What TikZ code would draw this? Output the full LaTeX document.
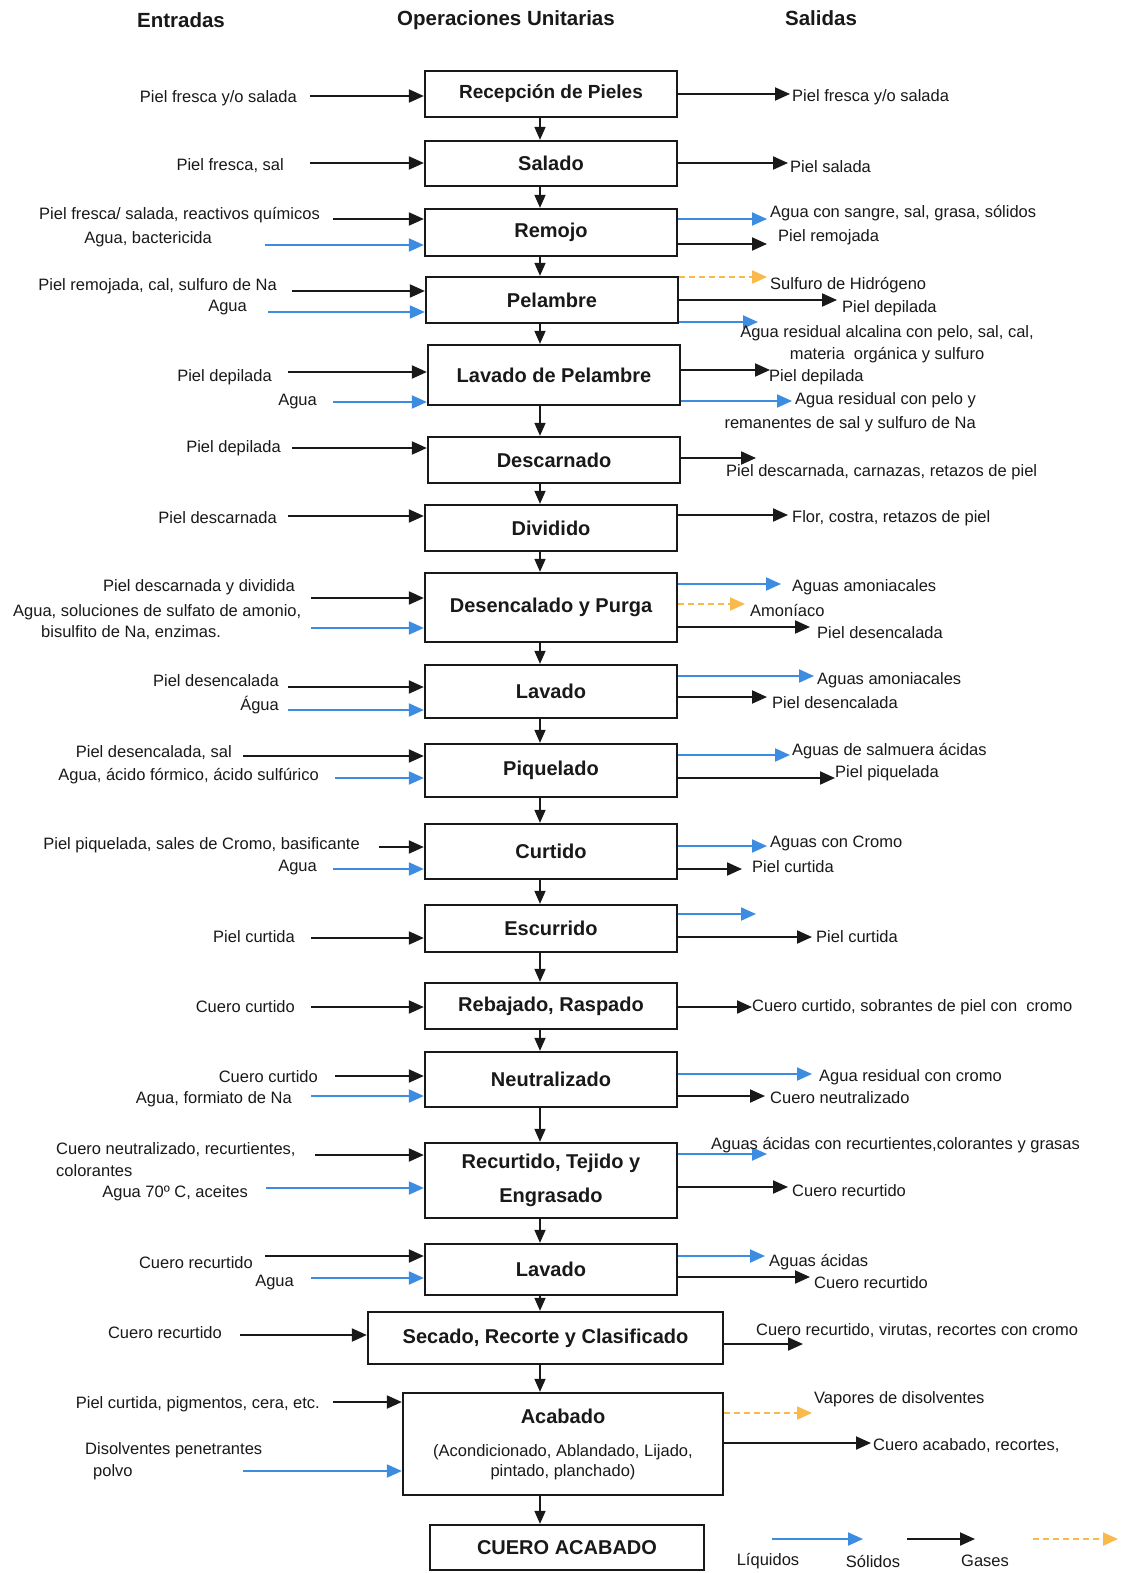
\documentclass[tikz,border=0pt]{standalone}
\usepackage{fontspec}
\setmainfont{Liberation Sans}
\usetikzlibrary{arrows.meta}
\definecolor{blk}{RGB}{25,25,25}
\definecolor{blu}{RGB}{60,140,225}
\definecolor{org}{RGB}{250,185,75}
\newcommand\lbfont{\fontsize{16.5}{20}\selectfont}
\newcommand\bxfont{\fontsize{20}{24}\selectfont\bfseries}
\newcommand\hdfont{\fontsize{20.5}{24}\selectfont\bfseries}
\begin{document}
\begin{tikzpicture}[x=1pt,y=-1pt,
 box/.style={draw=blk, line width=2.3pt, fill=white, inner sep=0pt, font=\bxfont, text=blk, align=center, minimum width=252pt},
 lb/.style={font=\lbfont, inner sep=0pt, text=blk},
 hd/.style={font=\hdfont, inner sep=0pt, text=blk},
 headA/.style={-{Triangle[length=15pt,width=13pt]}},
 sol/.style={draw=blk, line width=2pt, headA},
 liq/.style={draw=blu, line width=2pt, headA},
 gas/.style={draw=org, line width=2pt, dash pattern=on 6pt off 4pt, headA},
 down/.style={draw=blk, line width=1.6pt, -{Triangle[length=13pt,width=11pt]}},
]
\fill[white] (0,0) rectangle (1129,1573);
\useasboundingbox (0,0) rectangle (1129,1573);

% headers
\node[hd] (h1) at (181,20) {Entradas};
\node[hd] (h2) at (506,20) {Operaciones Unitarias};
\node[hd] (h3) at (821,18) {Salidas};

% boxes
\node[box, minimum height=46pt] (b1) at (551,94) {\fontsize{19}{22}\selectfont Recepción de Pieles};
\node[box, minimum height=45pt] (b2) at (551,163.5) {Salado};
\node[box, minimum height=47pt] (b3) at (551,232.5) {Remojo};
\node[box, minimum height=46pt] (b4) at (552,300) {Pelambre};
\node[box, minimum height=60pt] (b5) at (554,375) {Lavado de Pelambre};
\node[box, minimum height=46pt] (b6) at (554,460) {Descarnado};
\node[box, minimum height=46pt] (b7) at (551,528) {Dividido};
\node[box, minimum height=69pt] (b8) at (551,607.5) {Desencalado y Purga};
\node[box, minimum height=53pt] (b9) at (551,691.5) {Lavado};
\node[box, minimum height=53pt] (b10) at (551,770.5) {Piquelado};
\node[box, minimum height=55pt] (b11) at (551,851.5) {Curtido};
\node[box, minimum height=47pt] (b12) at (551,928.5) {Escurrido};
\node[box, minimum height=46pt] (b13) at (551,1006) {Rebajado, Raspado};
\node[box, minimum height=55pt] (b14) at (551,1079.5) {Neutralizado};
\node[box, minimum height=75pt] (b15) at (551,1180.5) {Recurtido, Tejido y\\[10pt]Engrasado};
\node[box, minimum height=51pt] (b16) at (551,1269.5) {Lavado};
\node[box, minimum height=52pt, minimum width=355pt] (b17) at (545.5,1338) {Secado, Recorte y Clasificado};
\node[box, minimum height=102pt, minimum width=320pt, font=\lbfont] (b18) at (563,1444) {{\bfseries\fontsize{20}{20}\selectfont Acabado}\\[13pt](Acondicionado, Ablandado, Lijado,\\pintado, planchado)};
\node[box, minimum height=45pt, minimum width=274pt] (b19) at (567,1547.5) {CUERO ACABADO};

% vertical flow
\coordinate (ax) at (540,0);
\foreach \a/\b in {b1/b2,b2/b3,b3/b4,b4/b5,b5/b6,b6/b7,b7/b8,b8/b9,b9/b10,b10/b11,b11/b12,b12/b13,b13/b14,b14/b15,b15/b16,b16/b17,b17/b18,b18/b19}
  \draw[down] (\a.south -| ax) -- (\b.north -| ax);

% ---------- inputs ----------
% 1
\node[lb, anchor=east] (e1) at (297,98) {Piel fresca y/o salada};
\coordinate (i1) at (310,96); \draw[sol] (i1) -- (i1 -| b1.west);
% 2
\node[lb, anchor=east] (e2) at (284,166) {Piel fresca, sal};
\coordinate (i2) at (310,163); \draw[sol] (i2) -- (i2 -| b2.west);
% 3
\node[lb, anchor=east] (e3a) at (320,215) {Piel fresca/ salada, reactivos químicos};
\coordinate (i3a) at (333,219); \draw[sol] (i3a) -- (i3a -| b3.west);
\node[lb, anchor=east] (e3b) at (212,239) {Agua, bactericida};
\coordinate (i3b) at (265,245); \draw[liq] (i3b) -- (i3b -| b3.west);
% 4
\node[lb, anchor=east] (e4a) at (277,286) {Piel remojada, cal, sulfuro de Na};
\coordinate (i4a) at (292,291); \draw[sol] (i4a) -- (i4a -| b4.west);
\node[lb, anchor=east] (e4b) at (247,308) {Agua};
\coordinate (i4b) at (268,312); \draw[liq] (i4b) -- (i4b -| b4.west);
% 5
\node[lb, anchor=east] (e5a) at (272,377) {Piel depilada};
\coordinate (i5a) at (288,372); \draw[sol] (i5a) -- (i5a -| b5.west);
\node[lb, anchor=east] (e5b) at (317,402) {Agua};
\coordinate (i5b) at (333,402); \draw[liq] (i5b) -- (i5b -| b5.west);
% 6
\node[lb, anchor=east] (e6) at (281,448) {Piel depilada};
\coordinate (i6) at (292,448); \draw[sol] (i6) -- (i6 -| b6.west);
% 7
\node[lb, anchor=east] (e7) at (277,518) {Piel descarnada};
\coordinate (i7) at (288,516); \draw[sol] (i7) -- (i7 -| b7.west);
% 8
\node[lb, anchor=east] (e8a) at (295,587) {Piel descarnada y dividida};
\coordinate (i8a) at (311,598); \draw[sol] (i8a) -- (i8a -| b8.west);
\node[lb, anchor=west, align=left] (e8b) at (13,622) {Agua, soluciones de sulfato de amonio,\\[1pt]\hspace*{28pt}bisulfito de Na, enzimas.};
\coordinate (i8b) at (311,628); \draw[liq] (i8b) -- (i8b -| b8.west);
% 9
\node[lb, anchor=east] (e9a) at (279,681) {Piel desencalada};
\coordinate (i9a) at (288,687); \draw[sol] (i9a) -- (i9a -| b9.west);
\node[lb, anchor=east] (e9b) at (279,705) {Água};
\coordinate (i9b) at (288,710); \draw[liq] (i9b) -- (i9b -| b9.west);
% 10
\node[lb, anchor=east] (e10a) at (232,753) {Piel desencalada, sal};
\coordinate (i10a) at (243,756); \draw[sol] (i10a) -- (i10a -| b10.west);
\node[lb, anchor=east] (e10b) at (319,776) {Agua, ácido fórmico, ácido sulfúrico};
\coordinate (i10b) at (335,778); \draw[liq] (i10b) -- (i10b -| b10.west);
% 11
\node[lb, anchor=east] (e11a) at (360,845) {Piel piquelada, sales de Cromo, basificante};
\coordinate (i11a) at (379,847); \draw[sol] (i11a) -- (i11a -| b11.west);
\node[lb, anchor=east] (e11b) at (317,868) {Agua};
\coordinate (i11b) at (333,869); \draw[liq] (i11b) -- (i11b -| b11.west);
% 12
\node[lb, anchor=east] (e12) at (295,937) {Piel curtida};
\coordinate (i12) at (311,938); \draw[sol] (i12) -- (i12 -| b12.west);
% 13
\node[lb, anchor=east] (e13) at (295,1007) {Cuero curtido};
\coordinate (i13) at (311,1007); \draw[sol] (i13) -- (i13 -| b13.west);
% 14
\node[lb, anchor=east] (e14a) at (318,1077) {Cuero curtido};
\coordinate (i14a) at (335,1076); \draw[sol] (i14a) -- (i14a -| b14.west);
\node[lb, anchor=east] (e14b) at (292,1099) {Agua, formiato de Na};
\coordinate (i14b) at (311,1096); \draw[liq] (i14b) -- (i14b -| b14.west);
% 15
\node[lb, anchor=west, align=left] (e15a) at (56,1160) {Cuero neutralizado, recurtientes,\\[2pt]colorantes};
\coordinate (i15a) at (315,1155); \draw[sol] (i15a) -- (i15a -| b15.west);
\node[lb, anchor=east] (e15b) at (248,1193) {Agua 70º C, aceites};
\coordinate (i15b) at (266,1188); \draw[liq] (i15b) -- (i15b -| b15.west);
% 16
\node[lb, anchor=east] (e16a) at (253,1263) {Cuero recurtido};
\coordinate (i16a) at (265,1256); \draw[sol] (i16a) -- (i16a -| b16.west);
\node[lb, anchor=east] (e16b) at (294,1283) {Agua};
\coordinate (i16b) at (311,1278); \draw[liq] (i16b) -- (i16b -| b16.west);
% 17
\node[lb, anchor=east] (e17) at (222,1333) {Cuero recurtido};
\coordinate (i17) at (240,1335); \draw[sol] (i17) -- (i17 -| b17.west);
% 18
\node[lb, anchor=east] (e18a) at (320,1404) {Piel curtida, pigmentos, cera, etc.};
\coordinate (i18a) at (333,1402); \draw[sol] (i18a) -- (i18a -| b18.west);
\node[lb, anchor=west, align=left] (e18b) at (85,1461) {Disolventes penetrantes\\[2pt]\hspace*{8pt}polvo};
\coordinate (i18b) at (243,1471); \draw[liq] (i18b) -- (i18b -| b18.west);

% ---------- outputs ----------
% 1
\coordinate (o1) at (790,94); \draw[sol] (o1 -| b1.east) -- (o1);
\node[lb, anchor=west] (s1) at (792,97) {Piel fresca y/o salada};
% 2
\coordinate (o2) at (788,163); \draw[sol] (o2 -| b2.east) -- (o2);
\node[lb, anchor=west] (s2) at (790,167) {Piel salada};
% 3
\coordinate (o3a) at (767,219); \draw[liq] (o3a -| b3.east) -- (o3a);
\node[lb, anchor=west] (s3a) at (770,213) {Agua con sangre, sal, grasa, sólidos};
\coordinate (o3b) at (767,244); \draw[sol] (o3b -| b3.east) -- (o3b);
\node[lb, anchor=west] (s3b) at (778,237) {Piel remojada};
% 4
\coordinate (o4a) at (767,277); \draw[gas] (o4a -| b4.east) -- (o4a);
\node[lb, anchor=west] (s4a) at (770,285) {Sulfuro de Hidrógeno};
\coordinate (o4b) at (837,300); \draw[sol] (o4b -| b4.east) -- (o4b);
\node[lb, anchor=west] (s4b) at (842,308) {Piel depilada};
\coordinate (o4c) at (758,322); \draw[liq] (o4c -| b4.east) -- (o4c);
\node[lb, align=center] (s4c) at (887,344) {Agua residual alcalina con pelo, sal, cal,\\[2pt]materia\ \ orgánica y sulfuro};
% 5
\coordinate (o5a) at (770,370); \draw[sol] (o5a -| b5.east) -- (o5a);
\node[lb, anchor=west] (s5a) at (769,377) {Piel depilada};
\coordinate (o5b) at (792,401); \draw[liq] (o5b -| b5.east) -- (o5b);
\node[lb, anchor=east, align=right] (s5b) at (976,412) {Agua residual con pelo y\\[4pt]remanentes de sal y sulfuro de Na};
% 6
\coordinate (o6) at (756,458); \draw[sol] (o6 -| b6.east) -- (o6);
\node[lb, anchor=west] (s6) at (726,472) {Piel descarnada, carnazas, retazos de piel};
% 7
\coordinate (o7) at (788,515); \draw[sol] (o7 -| b7.east) -- (o7);
\node[lb, anchor=west] (s7) at (792,518) {Flor, costra, retazos de piel};
% 8
\coordinate (o8a) at (781,584); \draw[liq] (o8a -| b8.east) -- (o8a);
\node[lb, anchor=west] (s8a) at (792,587) {Aguas amoniacales};
\coordinate (o8b) at (745,604); \draw[gas] (o8b -| b8.east) -- (o8b);
\node[lb, anchor=west] (s8b) at (750,610) {Amoníaco};
\coordinate (o8c) at (810,627); \draw[sol] (o8c -| b8.east) -- (o8c);
\node[lb, anchor=west] (s8c) at (817,633) {Piel desencalada};
% 9
\coordinate (o9a) at (814,676); \draw[liq] (o9a -| b9.east) -- (o9a);
\node[lb, anchor=west] (s9a) at (817,680) {Aguas amoniacales};
\coordinate (o9b) at (767,697); \draw[sol] (o9b -| b9.east) -- (o9b);
\node[lb, anchor=west] (s9b) at (772,703) {Piel desencalada};
% 10
\coordinate (o10a) at (790,755); \draw[liq] (o10a -| b10.east) -- (o10a);
\node[lb, anchor=west] (s10a) at (792,751) {Aguas de salmuera ácidas};
\coordinate (o10b) at (835,778); \draw[sol] (o10b -| b10.east) -- (o10b);
\node[lb, anchor=west] (s10b) at (835,773) {Piel piquelada};
% 11
\coordinate (o11a) at (767,846); \draw[liq] (o11a -| b11.east) -- (o11a);
\node[lb, anchor=west] (s11a) at (770,843) {Aguas con Cromo};
\coordinate (o11b) at (742,869); \draw[sol] (o11b -| b11.east) -- (o11b);
\node[lb, anchor=west] (s11b) at (752,867) {Piel curtida};
% 12
\coordinate (o12a) at (756,914); \draw[liq] (o12a -| b12.east) -- (o12a);
\coordinate (o12b) at (812,937); \draw[sol] (o12b -| b12.east) -- (o12b);
\node[lb, anchor=west] (s12b) at (816,937) {Piel curtida};
% 13
\coordinate (o13) at (752,1007); \draw[sol] (o13 -| b13.east) -- (o13);
\node[lb, anchor=west] (s13) at (752,1007) {Cuero curtido, sobrantes de piel con\ \ cromo};
% 14
\coordinate (o14a) at (812,1074); \draw[liq] (o14a -| b14.east) -- (o14a);
\node[lb, anchor=west] (s14a) at (819,1077) {Agua residual con cromo};
\coordinate (o14b) at (765,1096); \draw[sol] (o14b -| b14.east) -- (o14b);
\node[lb, anchor=west] (s14b) at (770,1098) {Cuero neutralizado};
% 15
\coordinate (o15a) at (767,1154); \draw[liq] (o15a -| b15.east) -- (o15a);
\node[lb, anchor=west] (s15a) at (711,1145) {Aguas ácidas con recurtientes,colorantes y grasas};
\coordinate (o15b) at (788,1187); \draw[sol] (o15b -| b15.east) -- (o15b);
\node[lb, anchor=west] (s15b) at (792,1191) {Cuero recurtido};
% 16
\coordinate (o16a) at (765,1256); \draw[liq] (o16a -| b16.east) -- (o16a);
\node[lb, anchor=west] (s16a) at (769,1262) {Aguas ácidas};
\coordinate (o16b) at (810,1277); \draw[sol] (o16b -| b16.east) -- (o16b);
\node[lb, anchor=west] (s16b) at (814,1283) {Cuero recurtido};
% 17
\coordinate (o17) at (803,1344); \draw[sol] (o17 -| b17.east) -- (o17);
\node[lb, anchor=west] (s17) at (756,1331) {Cuero recurtido, virutas, recortes con cromo};
% 18
\coordinate (o18a) at (812,1413); \draw[gas] (o18a -| b18.east) -- (o18a);
\node[lb, anchor=west] (s18a) at (814,1399) {Vapores de disolventes};
\coordinate (o18b) at (871,1443); \draw[sol] (o18b -| b18.east) -- (o18b);
\node[lb, anchor=west] (s18b) at (873,1446) {Cuero acabado, recortes,};

% ---------- legend ----------
\coordinate (k1a) at (772,1539); \coordinate (k1b) at (863,1539);
\draw[liq] (k1a) -- (k1b);
\coordinate (k2a) at (907,1539); \coordinate (k2b) at (975,1539);
\draw[sol] (k2a) -- (k2b);
\coordinate (k3a) at (1033,1539); \coordinate (k3b) at (1118,1539);
\draw[gas] (k3a) -- (k3b);
\node[lb] (t1) at (768,1561) {Líquidos};
\node[lb] (t2) at (873,1561) {Sólidos};
\node[lb] (t3) at (985,1561) {Gases};
\end{tikzpicture}
\end{document}
